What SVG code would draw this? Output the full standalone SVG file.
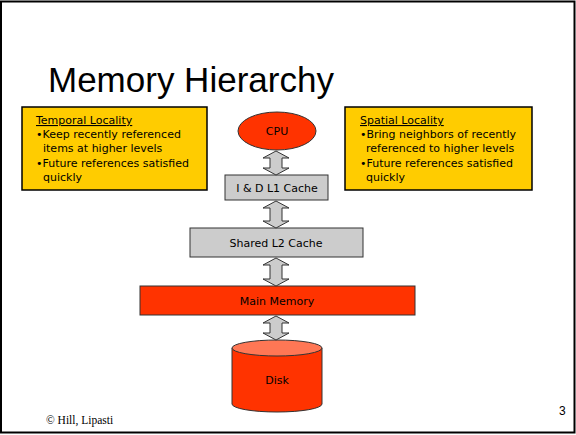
<svg xmlns="http://www.w3.org/2000/svg" width="576" height="435" viewBox="0 0 576 435">
<style>
.t{font-family:"DejaVu Sans","Liberation Sans",sans-serif;font-size:11px;fill:#000}
.c{text-anchor:middle}
.note{fill:#FFCC00;stroke:#000;stroke-width:1.5}
.gray{fill:#CCCCCC;stroke:#333;stroke-width:1}
.red{fill:#FF3300;stroke:#333;stroke-width:1}
.arr{fill:#CCCCCC;stroke:#333;stroke-width:1}
</style>
<rect x="1" y="1.5" width="573.5" height="431" fill="#fff" stroke="#000" stroke-width="2"/>
<text x="48" y="92" style="font-family:'Liberation Sans',Arial,sans-serif;font-size:35px">Memory Hierarchy</text>

<g id="temporal">
<rect class="note" x="22" y="107" width="185" height="83"/>
<text class="t" x="36" y="124" text-decoration="underline">Temporal Locality</text>
<text class="t" x="36" y="138">•Keep recently referenced</text>
<text class="t" x="43" y="152">items at higher levels</text>
<text class="t" x="36" y="167">•Future references satisfied</text>
<text class="t" x="43" y="181">quickly</text>
</g>

<g id="spatial">
<rect class="note" x="345" y="107" width="187" height="83"/>
<text class="t" x="360" y="124" text-decoration="underline">Spatial Locality</text>
<text class="t" x="360" y="138">•Bring neighbors of recently</text>
<text class="t" x="366" y="152">referenced to higher levels</text>
<text class="t" x="360" y="167">•Future references satisfied</text>
<text class="t" x="366" y="181">quickly</text>
</g>

<g id="cpu">
<ellipse class="red" cx="277" cy="131" rx="39" ry="19"/>
<text class="t c" x="277" y="135">CPU</text>
</g>

<g id="l1">
<rect class="gray" x="225" y="175" width="103" height="25"/>
<text class="t c" x="277" y="192">I &amp; D L1 Cache</text>
</g>

<g id="l2">
<rect class="gray" x="190" y="228" width="173" height="29"/>
<text class="t c" x="276" y="247">Shared L2 Cache</text>
</g>

<g id="mainmem">
<rect class="red" x="140" y="286" width="275" height="29"/>
<text class="t c" x="277" y="305">Main Memory</text>
</g>

<g id="disk">
<path class="red" d="M232,348 L232,404 A45,8 0 0 0 322,404 L322,348"/>
<ellipse cx="277" cy="348" rx="45" ry="8" fill="#FF7755" stroke="#333" stroke-width="1"/>
<text class="t c" x="277" y="384">Disk</text>
</g>

<g id="connectors">
<path class="arr" d="M276,151 L289,158 L282,158 L282,168 L289,168 L276,175 L263,168 L270,168 L270,158 L263,158 Z"/>
<path class="arr" d="M276,201 L289,208 L282,208 L282,221 L289,221 L276,228 L263,221 L270,221 L270,208 L263,208 Z"/>
<path class="arr" d="M276,258 L289,265 L282,265 L282,279 L289,279 L276,286 L263,279 L270,279 L270,265 L263,265 Z"/>
<path class="arr" d="M276,316 L289,323 L282,323 L282,333 L289,333 L276,340 L263,333 L270,333 L270,323 L263,323 Z"/>
</g>

<text x="46" y="424" style="font-family:'Liberation Serif','Times New Roman',serif;font-size:11.5px">© Hill, Lipasti</text>
<text x="559" y="415" style="font-family:'Liberation Sans',Arial,sans-serif;font-size:12px">3</text>
</svg>
